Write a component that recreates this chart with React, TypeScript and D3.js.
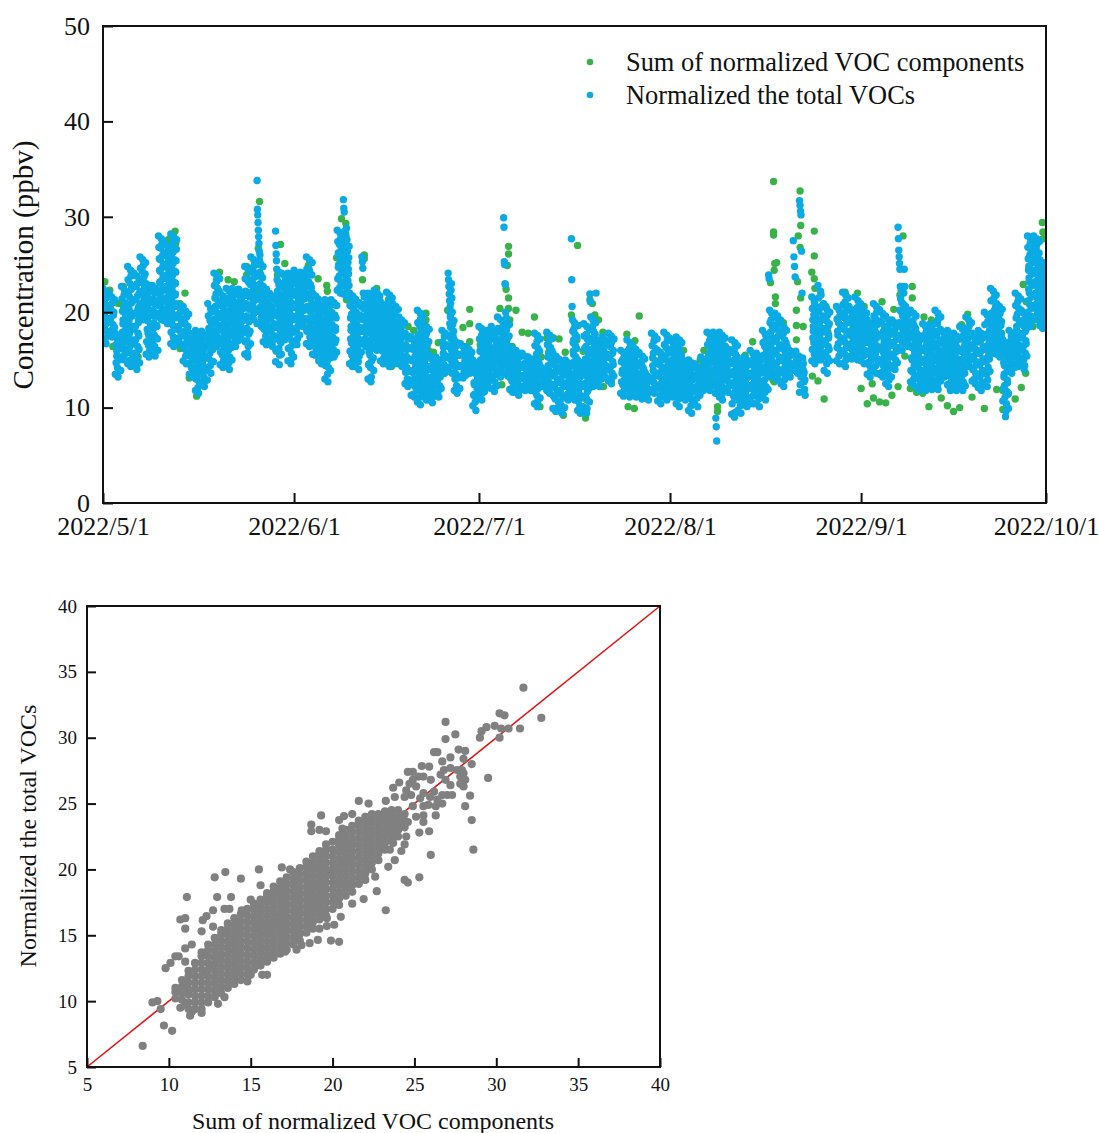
import * as d3 from 'd3';
import React, { useRef, useEffect } from 'react';

const SERIES_NAMES = ['Sum of normalized VOC components', 'Normalized the total VOCs'];
const CONC_TICKS = [0, 10, 20, 30, 40, 50];
const DATE_TICKS = ['2022/5/1', '2022/6/1', '2022/7/1', '2022/8/1', '2022/9/1', '2022/10/1'];
const SCATTER_TICKS = [5, 10, 15, 20, 25, 30, 35, 40];

// Normalized total VOCs, one list per day from 2022/5/1, readings in time order
const totalDaily: number[][] = [
  [22.5,21.2,19.9,18.6,17.3,16.7,18,19.3,20.6,21.9],
  [22,20.7,19.4,18.1,17.4,18.7,20,21.3],
  [17.8,16.6,15.4,14.2,13.2,13.8,15,16.2,17.2],
  [22.7,21.4,20.1,18.8,17.5,16.2,15,15.6,16.9,18.2,19.5,20.8,22],
  [24.8,23.4,22,20.6,19.2,17.8,16.4,15,14.3,15.7,17.1,18.5,19.9,21.3,22.7,24.1],
  [24.1,22.7,21.3,19.9,18.5,17.1,15.7,14.3,14,15,16.4,17.8,19.2,20.6,22,23.4],
  [25.8,24.6,23.4,22.2,21,19.8,19.2,20.4,21.6,22.8,24,25.2],
  [23,21.7,20.4,19.1,17.8,16.5,15.3,15.9,17.2,18.5,19.8,21.1,22.4],
  [22.8,21.4,20.2,18.9,17.6,16.4,15.4,16,17.3,18.6,19.9,21.2,22.2],
  [28,26.8,25.6,24.4,23.2,22,20.8,19.6,19.2,20.2,21.4,22.6,23.8,25,26.2,27.4],
  [27.2,26,24.8,23.6,22.4,21.2,20,18.8,19.4,20.6,21.8,23,24.2,25.4,26.6],
  [28.2,27,25.8,24.6,23.4,22.2,21,19.8,18.6,17.4,16.4,17,18.2,19.4,20.6,21.8,23,24.2,25.4,26.6,27.6],
  [20.9,19.7,18.5,17.3,16.7,17.9,19.1,20.3],
  [20.6,19.3,18,16.7,15.4,14.6,15.9,17.2,18.5,19.8],
  [17.8,16.6,15.4,14.2,13.2,13.8,15,16.2,17.2],
  [18.1,16.9,15.7,14.5,13.3,12.1,11.5,12.7,13.9,15.1,16.3,17.5],
  [18,16.8,15.6,14.4,13.2,12.2,12.8,14,15.2,16.4,17.6],
  [20.9,19.6,18.3,17,15.7,14.4,13.6,14.9,16.2,17.5,18.8,20.1],
  [24.1,22.8,21.5,20.2,18.9,17.6,16.4,17,18.3,19.6,20.9,22.2,23.5],
  [22,20.7,19.4,18.1,16.8,15.5,14.2,14.9,16.2,17.5,18.8,20.1,21.4],
  [22.5,21.2,19.9,18.6,17.3,16,14.7,14,15.3,16.6,17.9,19.2,20.5,21.8],
  [22.5,21.2,19.9,18.6,17.3,16.4,17.9,19.2,20.5,21.8],
  [22.4,21.1,19.8,18.5,17.2,17.8,19.1,20.4,21.7],
  [24.8,23.5,22.2,20.9,19.6,18.3,17,15.7,15.3,16.4,17.7,19,20.3,21.6,22.9,24.2],
  [25.8,24.6,23.4,22.2,21,19.8,19.2,20.4,21.6,22.8,24,25.2],
  [33.8,30.8,30.2,29.4,28.6,27.9,27.2,26.4,25.4,24.2,23,21.8,20.6,19.4,18.5,19.9,21.2,22.4,23.6,24.8],
  [22.7,21.4,20.1,18.8,17.5,16.6,17.9,19.2,20.5,21.8],
  [22,20.7,19.4,18.1,16.8,16.4,17.4,18.7,20,21.3],
  [28.5,27,26.1,25.4,24.5,23.4,22.2,21,19.8,18.6,17.4,16.2,14.5,15.5,17,18.2,19.4,20.6,21.8,23],
  [24.1,22.8,21.5,20.2,18.9,17.6,17.1,18.3,19.6,20.9,22.2,23.5],
  [24.1,22.8,21.5,20.2,18.9,17.6,16.3,15,14.6,15.7,17,18.3,19.6,20.9,22.2,23.5],
  [24.4,23.1,21.8,20.5,19.2,17.9,16.6,17.2,18.5,19.8,21.1,22.4,23.7],
  [24.2,23,21.8,20.6,19.4,18.5,19,20.2,21.4,22.6,23.8],
  [25.8,24.5,23.2,21.9,20.6,19.3,18,16.7,16.4,17.4,18.7,20,21.3,22.6,23.9,25.2],
  [22,20.7,19.4,18.1,16.8,15.5,16.2,17.5,18.8,20.1,21.4],
  [20.9,19.6,18.3,17,15.7,14.6,15.1,16.4,17.7,19,20.3],
  [21.3,20,18.7,17.4,16.1,14.8,13.5,12.7,14.2,15.5,16.8,18.1,19.4,20.7],
  [21.3,20,18.7,17.4,16.1,15.3,15.5,16.8,18.1,19.4,20.7],
  [28.6,27.4,26.2,25,23.8,22.6,22,23.2,24.4,25.6,26.8,28],
  [31.8,30.9,30.5,28.5,27.3,26.1,24.9,23.7,22.5,21.6,22.1,23.3,24.5,25.7,26.9],
  [22,20.7,19.4,18.1,16.8,15.5,14.3,14.9,16.2,17.5,18.8,20.1,21.4],
  [21.3,20,18.7,17.4,16.1,14.8,14,15.4,16.7,18,19.3,20.6],
  [25.8,25.3,24.6,22,20.8,19.6,18.4,17.2,16.4,17.8,19,20.2,21.4],
  [22,20.7,19.4,18.1,16.8,15.5,14.2,12.7,13.2,14.9,16.2,17.5,18.8,20.1,21.4],
  [22.3,21,19.7,18.4,17.1,16,16.5,17.8,19.1,20.4,21.7],
  [21.1,19.8,18.5,17.2,15.9,14.6,15.2,16.5,17.8,19.1,20.4],
  [22.1,20.8,19.5,18.2,16.9,15.6,14.3,15,16.3,17.6,18.9,20.2,21.5],
  [20.9,19.6,18.3,17,15.7,14.6,15.1,16.4,17.7,19,20.3],
  [19.5,18.3,17.1,15.9,14.7,14.3,15.3,16.5,17.7,18.9],
  [17.8,16.6,15.4,14.2,13,12.2,12.6,13.8,15,16.2,17.2],
  [17.4,16.2,15,13.8,12.6,11.4,11.1,12.2,13.4,14.6,15.8,16.8],
  [20.2,18.9,17.6,16.3,15,13.7,12.4,11.1,10.3,11.8,13.1,14.4,15.7,17,18.3,19.6],
  [18.8,17.5,16.2,14.9,13.6,12.3,11,10.8,11.7,13,14.3,15.6,16.9,18.2],
  [15.3,14.1,12.9,11.7,10.5,11.1,12.3,13.5,14.7],
  [15.3,14.1,12.9,11.7,11.1,12.3,13.5,14.7],
  [18.1,16.9,15.7,14.5,13.6,14.1,15.3,16.5,17.5],
  [24.1,23.4,22.7,21.9,21.2,20.5,19.5,18.4,17.2,16,14.8,13.6,14.4,15.6,16.8,18,19.1],
  [17.1,15.9,14.7,13.5,12.3,11.5,11.9,13.1,14.3,15.5,16.6],
  [16.7,15.5,14.3,13.1,13.7,14.9,16.1],
  [16.4,15.2,14,13.6,14.6,15.8],
  [15,13.8,12.6,11.4,10.6,9.7,11,12,13.2,14.4],
  [18.5,17.2,15.9,14.6,13.3,12,10.8,11.5,12.8,14.1,15.4,16.7,18],
  [18.1,16.9,15.7,14.5,13.3,12.2,12.7,13.9,15.1,16.3,17.5],
  [18.5,17.2,15.9,14.6,13.3,12,11.7,12.7,14,15.3,16.6,17.9],
  [19.5,18.3,17.1,15.9,14.7,13.5,13.2,14.1,15.3,16.5,17.7,18.9],
  [29.9,28.9,25.3,25,23,22.9,20,19.3,18.1,16.9,15.7,14.5,13.3,13.9,15.1,16.3,17.5,18.7],
  [16.4,15.2,14,12.8,11.6,12.2,13.4,14.6,15.8],
  [16,14.8,13.6,12.4,11.3,11.8,13,14.2,15.4],
  [15.7,14.5,13.3,12.1,11.8,12.7,13.9,15.1],
  [15.3,14.1,12.9,11.8,12.3,13.5,14.7],
  [17.8,16.5,15.2,13.9,12.6,11.3,10.1,10.7,12,13.3,14.6,15.9,17.2],
  [14.3,13.2,12.2,12.7,13.8],
  [17.9,16.6,15.3,14,12.7,11.5,12.1,13.4,14.7,16,17.3],
  [15.7,14.5,13.3,12.1,10.9,9.6,9.9,11.5,12.7,13.9,15.1],
  [15,13.8,12.6,11.4,10.2,9.4,9.9,11,12.2,13.4,14.4],
  [15,13.8,12.6,11.4,10.8,12,13.2,14.4],
  [27.7,23.4,20.6,19.2,18,16.8,15.6,14.4,13.2,12,10.8,11.4,12.6,13.8,15,16.2,17.4,18.6],
  [15,13.8,12.6,11.4,10.2,9.4,10,11,12.2,13.4,14.4],
  [18.8,17.5,16.2,14.9,13.6,12.3,11,9.4,9.9,11.7,13,14.3,15.6,16.9,18.2],
  [21.9,21.1,19.5,18.3,17.1,15.9,14.7,13.5,12.2,12.9,14.1,15.3,16.5,17.7,18.9],
  [22,17.1,16,14.9,13.8,12.8,12.2,13.3,14.4,15.5,16.6],
  [17.4,16.2,15,13.8,13.2,14.4,15.6,16.8],
  [17.8,16.6,15.4,14.2,13,12.5,13.6,14.8,16,17.2],
  [],
  [16,14.8,13.6,12.4,11.2,11.8,13,14.2,15.4],
  [17.1,15.9,14.7,13.5,12.3,11.1,11.7,12.9,14.1,15.3,16.5],
  [16.4,15.2,14,12.8,11.6,11.1,12.2,13.4,14.6,15.8],
  [15.7,14.5,13.3,12.1,10.9,11.5,12.7,13.9,15.1],
  [13.6,12.5,11.4,10.8,11.9,13],
  [17.8,16.5,15.2,13.9,12.6,11.5,12,13.3,14.6,15.9,17.2],
  [16,14.8,13.6,12.4,11.2,10.4,11.8,13,14.2,15.4],
  [17.9,16.6,15.3,14,12.7,11.4,10.8,12.1,13.4,14.7,16,17.3],
  [17.1,15.9,14.7,13.5,12.3,11.1,11.7,12.9,14.1,15.3,16.5],
  [17.4,16.1,14.8,13.5,12.2,10.9,10.1,11.6,12.9,14.2,15.5,16.8],
  [15,13.8,12.6,11.4,10.8,12,13.2,14.4],
  [15,13.8,12.6,11.4,10.2,9.4,10.8,12,13.2,14.4],
  [14.6,13.4,12.2,11,10.1,11.6,12.8,14],
  [15.3,14.1,12.9,11.8,12.3,13.5,14.7],
  [17.9,16.6,15.3,14,12.7,11.8,12.1,13.4,14.7,16,17.3],
  [17.9,16.6,15.3,14,12.7,11.5,8.9,8,6.5,12.1,13.4,14.7,16,17.3],
  [17.9,16.6,15.3,14,12.7,11.4,10.8,12.1,13.4,14.7,16,17.3],
  [16.4,15.2,14,12.8,11.6,12.2,13.4,14.6,15.8],
  [17.1,15.9,14.7,13.5,12.3,11.1,9,9.5,11.7,12.9,14.1,15.3,16.5],
  [15,13.8,12.6,11.4,10.2,9.4,10.8,12,13.2,14.4],
  [15.3,14.1,12.9,11.7,10.5,10.1,11.1,12.3,13.5,14.7],
  [16,14.8,13.6,12.4,11.2,10.4,11.8,13,14.2,15.4],
  [15.7,14.5,13.3,12.1,10.9,10.1,11.5,12.7,13.9,15.1],
  [18.1,16.8,15.5,14.2,12.9,11.6,10.8,12.2,13.5,14.8,16.1,17.4],
  [23.9,23.5,20.2,18.9,17.6,16.3,15,13.6,14.3,15.6,16.9,18.2,19.5],
  [19.9,18.6,17.3,16,14.7,13.4,12.9,14,15.3,16.6,17.9,19.2],
  [18.8,17.5,16.2,14.9,13.6,12.2,12.9,14.2,15.5,16.8,18.1],
  [16.4,15.2,14,13.2,14.6,15.8],
  [27.5,25.8,24.8,23.7,15.9,14.9,14,13.6,14.4,15.4],
  [31.7,31.2,30.6,30.2,26.4,22,15,14,13.5,12.7,11.9,11.3],
  [],
  [21.6,20.4,19.2,18,16.8,15.6,14.6,15.2,16.4,17.6,18.8,20],
  [22.8,21.5,20.2,18.9,17.6,16.3,15,15.7,17,18.3,19.6,20.9],
  [20.6,19.4,18.2,17,15.8,14.6,13.6,15.2,16.4,17.6,18.8,20],
  [],
  [20.6,19.3,18,16.7,15.4,14.6,16,17.3,18.6,19.9],
  [22.1,20.8,19.5,18.2,16.9,15.6,14.3,15,16.3,17.6,18.9,20.2,21.5],
  [20.6,19.3,18,16.7,15.4,15.1,16,17.3,18.6,19.9],
  [21.6,20.3,19,17.7,16.4,15,15.7,17,18.3,19.6,20.9],
  [20.6,19.3,18,16.7,15.4,14.6,16,17.3,18.6,19.9],
  [19.2,18,16.8,15.6,14.4,13.2,13.8,15,16.2,17.4,18.6],
  [20.9,19.6,18.3,17,15.7,14.4,13.6,15.1,16.4,17.7,19,20.3],
  [20.2,18.9,17.6,16.3,15,13.7,13.2,14.4,15.7,17,18.3,19.6],
  [19.5,18.3,17.1,15.9,14.7,13.5,12.2,12.9,14.1,15.3,16.5,17.7,18.9],
  [19.2,18,16.8,15.6,14.4,14,15,16.2,17.4,18.6],
  [28.9,27.7,26.5,25.8,25.1,24.5,22.7,21.4,20.1,18.8,17.5,16,16.9,18.2,19.5,20.8,22],
  [24.5,22.7,20.6,19.4,18.2,17,16.4,17.6,18.8,20],
  [20.2,18.9,17.6,16.3,15,13.7,12.4,13,14.4,15.7,17,18.3,19.6],
  [17.8,16.6,15.4,14.2,13,11.8,12.4,13.6,14.8,16,17.2],
  [18.8,17.5,16.2,14.9,13.6,12.3,11.8,13,14.3,15.6,16.9,18.2],
  [18.7,17.4,16.1,14.8,13.5,12.2,11.9,12.9,14.2,15.5,16.8,18],
  [20.2,18.9,17.6,16.3,15,13.7,12.4,11.9,13,14.3,15.6,16.9,18.2,19.5],
  [18.1,16.9,15.7,14.5,13.2,13.8,15.1,16.3,17.5],
  [18.1,16.9,15.7,14.5,13.3,12.1,11.8,12.7,13.9,15.1,16.3,17.5],
  [17.8,16.6,15.4,14.2,13,11.8,12.4,13.6,14.8,16,17.2],
  [18.5,17.2,15.9,14.6,13.3,12,11.8,12.7,14,15.3,16.6,17.9],
  [19.5,18.3,17.1,15.9,14.7,14.3,15.3,16.5,17.7,18.9],
  [17.8,16.6,15.4,14.2,13,12.5,13.6,14.8,16,17.2],
  [18.1,16.9,15.7,14.5,13.3,12.1,11.8,12.7,13.9,15.1,16.3,17.5],
  [20,18.7,17.4,16.1,14.8,13.5,12.2,12.9,14.2,15.5,16.8,18.1,19.4],
  [22.5,21.2,19.9,18.6,17.3,16,15.7,16.7,18,19.3,20.6,21.8],
  [20.9,19.6,18.3,17,15.7,15.3,16.4,17.7,19,20.3],
  [17.1,15.9,14.7,13.5,12.3,11.1,9.05,9.6,10.4,11.7,12.9,14.1,15.3,16.5],
  [18.1,16.9,15.7,14.5,13.6,14.1,15.3,16.5,17.5],
  [22,20.7,19.4,18.1,16.8,15.5,14.3,14.9,16.2,17.5,18.8,20.1,21.4],
  [20.2,18.9,17.6,16.3,15,14,14.4,15.7,17,18.3,19.6],
  [28,26.8,25.6,24.4,23.2,22,20.8,19.6,18.5,19.2,20.4,21.6,22.8,24,25.2,26.4,27.6],
  [28,26.8,25.6,24.4,23.2,22,20.8,19.6,19.2,20.2,21.4,22.6,23.8,25,26.2,27.4],
  [25.5,24.3,23.1,21.9,20.7,19.5,18.3,18.9,20.1,21.3,22.5,23.7,24.9],
];

// Further total VOC readings in the solid part of the band, per day
const totalDailyBand: number[][] = [
  [17,18.3,19.6,20.9,22.2,21.5,20.2,18.9,17.6],
  [17.7,19,20.3,21.6,21,19.7,18.4],
  [13.5,14.7,15.9,17.1,17.5,16.3,15.1,13.9],
  [15.3,16.6,17.9,19.2,20.5,21.8,22.3,21,19.7,18.4,17.1,15.8],
  [14.6,16,17.4,18.8,20.2,21.6,23,24.4,23.8,22.4,21,19.6,18.2,16.8,15.4],
  [14.5,15.7,17.1,18.5,19.9,21.3,22.7,23.8,23,21.7,20.3,18.9,17.5,16.1,14.7],
  [19.5,20.7,21.9,23.1,24.3,25.5,24.9,23.7,22.5,21.3,20.1],
  [15.6,16.9,18.2,19.5,20.8,22.1,22.7,21.4,20.1,18.8,17.5,16.2],
  [15.7,17,18.3,19.6,20.9,22,22.5,21.1,19.8,18.5,17.2,16],
  [19.5,20.7,21.9,23.1,24.3,25.5,26.7,27.7,27.1,25.9,24.7,23.5,22.3,21.1,19.9],
  [19.1,20.3,21.5,22.7,23.9,25.1,26.3,26.9,25.7,24.5,23.3,22.1,20.9,19.7],
  [16.7,17.9,19.1,20.3,21.5,22.7,23.9,25.1,26.3,27.5,27.9,26.7,25.5,24.3,23.1,21.9,20.7,19.5,18.3,17.1],
  [17,18.2,19.4,20.6,20,18.8,17.6],
  [14.9,16.2,17.5,18.8,20.1,19.5,18.2,16.9,15.6],
  [13.5,14.7,15.9,17.1,17.5,16.3,15.1,13.9],
  [11.8,13,14.2,15.4,16.6,17.8,17.2,16,14.8,13.6,12.4],
  [12.5,13.7,14.9,16.1,17.3,17.7,16.5,15.3,14.1,12.9],
  [13.9,15.2,16.5,17.8,19.1,20.4,20,18.7,17.4,16.1,14.8],
  [16.7,18,19.3,20.6,21.9,23.2,23.8,22.5,21.2,19.9,18.6,17.3],
  [14.5,15.8,17.1,18.4,19.7,21,21.7,20.4,19.1,17.8,16.5,15.2],
  [14.4,15.7,17,18.3,19.6,20.9,22.2,21.5,20.2,18.9,17.6,16.3,15],
  [16.7,18,19.3,20.6,21.9,22.2,20.9,19.6,18.3,17],
  [17.4,18.7,20,21.3,22.1,20.8,19.5,18.2],
  [15.6,16.9,18.2,19.5,20.8,22.1,23.4,24.5,23.2,21.9,20.6,19.3,18,16.7],
  [19.5,20.7,21.9,23.1,24.3,25.5,24.9,23.7,22.5,21.3,20.1],
  [18.8,20.1,21.4,22.6,23.8,25,26,25.1,23.9,22.7,21.5,20.3,19.1],
  [16.9,18.2,19.5,20.8,22.1,22.4,21.1,19.8,18.5,17.2],
  [16.7,18,19.3,20.6,21.7,21.4,20.1,18.8,17.5],
  [14.8,16,17.2,18.4,19.6,20.8,22,23.2,24.2,22.8,21.6,20.4,19.2,18,16.8,15.6],
  [17.4,18.6,19.9,21.2,22.5,23.8,23.2,21.9,20.6,19.3,18],
  [14.9,16.2,17.5,18.8,20.1,21.4,22.7,23.8,23.1,21.8,20.5,19.2,17.9,16.6,15.3],
  [16.7,18,19.3,20.6,21.9,23.2,24.1,22.8,21.5,20.2,18.9,17.6],
  [18.8,20,21.2,22.4,23.6,24,22.9,21.7,20.5,19.3],
  [16.7,18,19.3,20.6,21.9,23.2,24.5,25.5,24.2,22.9,21.6,20.3,19,17.7],
  [15.6,16.9,18.2,19.5,20.8,21.7,20.4,19.1,17.8,16.5],
  [14.9,16.2,17.5,18.8,20.1,20.6,19.3,18,16.7,15.4],
  [13,14.4,15.7,17,18.3,19.6,20.9,20.4,19.1,17.8,16.5,15.2,13.9],
  [15.6,16.9,18.2,19.5,20.8,21,19.7,18.4,17.1,15.8],
  [22.3,23.5,24.7,25.9,27.1,28.3,27.7,26.5,25.3,24.1,22.9],
  [21.9,23.1,24.3,25.5,26.7,27.9,28.8,27.6,26.4,25.2,24,22.8],
  [14.6,15.9,17.2,18.5,19.8,21.1,21.7,20.4,19.1,17.8,16.5,15.2],
  [14.3,15.6,16.9,18.2,19.5,20.8,21,19.7,18.4,17.1,15.8],
  [16.7,18,19.2,20.4,21.6,21.7,20.5,19.3,18.1,16.9],
  [13,14.5,15.8,17.1,18.4,19.7,21,21.7,20.4,19.1,17.8,16.5,15.2,13.9],
  [16.3,17.6,18.9,20.2,21.5,22,20.7,19.4,18.1,16.8],
  [14.9,16.2,17.5,18.8,20.1,20.8,19.5,18.2,16.9,15.6],
  [14.6,15.9,17.2,18.5,19.8,21.1,21.8,20.5,19.2,17.9,16.6,15.3],
  [14.9,16.2,17.5,18.8,20.1,20.6,19.3,18,16.7,15.4],
  [14.6,15.8,17,18.2,19.2,18.6,17.4,16.2,15],
  [12.5,13.7,14.9,16.1,17.3,17.5,16.3,15.1,13.9,12.9],
  [11.3,12.5,13.7,14.9,16.1,17.1,16.6,15.4,14.2,13,11.8],
  [10.6,12,13.3,14.6,15.9,17.2,18.5,19.9,19.3,18,16.7,15.4,14.1,12.8,11.5],
  [11.1,12.4,13.7,15,16.3,17.6,18.5,17.9,16.6,15.3,14,12.7,11.4],
  [10.8,12,13.2,14.4,15,13.8,12.6,11.4],
  [11.4,12.6,13.8,15,14.4,13.2,12],
  [13.9,15.1,16.3,17.5,17.8,16.6,15.4,14.2],
  [14,15.2,16.4,17.6,18.8,19.9,20.9,22.3,23,21.5,20,18.7,17.5,16.3,15.1],
  [11.8,13,14.2,15.4,16.5,16.8,15.6,14.4,13.2,12],
  [13.2,14.4,15.6,16.4,15.8,14.6,13.4],
  [13.9,15,16.1,15.5,14.3],
  [10.2,11.3,12.4,13.6,14.7,14.1,12.9,11.7],
  [11.1,12.4,13.7,15,16.3,17.6,18.2,16.9,15.6,14.3,13,11.7],
  [12.5,13.7,14.9,16.1,17.3,17.8,16.6,15.4,14.2,13],
  [12,13.3,14.6,15.9,17.2,18.2,17.5,16.2,14.9,13.6,12.3],
  [13.5,14.7,15.9,17.1,18.3,19.2,18,16.8,15.6,14.4],
  [13.6,14.8,16,17.2,18.4,19.4,18.5,17.3,16.1,14.9,13.7],
  [11.9,13.1,14.3,15.5,16.1,14.9,13.7,12.5],
  [11.6,12.8,14,15.2,15.7,14.5,13.3,12.1],
  [12.2,13.4,14.6,15.4,14.2,13,11.9],
  [12.1,13.3,14.5,15,13.8,12.6],
  [10.4,11.7,13,14.3,15.6,16.9,17.5,16.2,14.9,13.6,12.3,11],
  [12.5,13.5,14,13,12.4],
  [11.8,13.1,14.4,15.7,17,17.6,16.3,15,13.7,12.4],
  [9.9,11.2,12.4,13.6,14.8,15.4,14.2,13,11.8,10.6],
  [9.7,10.6,11.8,13,14.2,14.7,13.5,12.3,11.1,10],
  [11.1,12.3,13.5,14.7,14.1,12.9,11.7],
  [11.1,12.3,13.5,14.7,15.9,17.1,18.3,18.9,17.7,16.5,15.3,14.1,12.9,11.7],
  [9.7,10.7,11.9,13.1,14.3,14.7,13.5,12.3,11.1,10.1],
  [9.7,11.2,12.5,13.8,15.1,16.4,17.7,18.5,17.2,15.9,14.6,13.3,12,10.6],
  [12.5,13.7,14.9,16.1,17.3,18.5,19.2,18,16.8,15.6,14.4,13.2],
  [12.5,13.6,14.7,15.8,16.8,16.3,15.2,14.1,13],
  [13.5,14.7,15.9,17.1,16.5,15.3,14.1],
  [12.8,14,15.2,16.4,17.5,16.9,15.7,14.5,13.3],
  [],
  [11.5,12.7,13.9,15.1,15.7,14.5,13.3,12.1],
  [11.4,12.6,13.8,15,16.2,16.8,15.6,14.4,13.2,12],
  [11.4,12.5,13.7,14.9,16.1,15.5,14.3,13.1,11.9],
  [11.2,12.4,13.6,14.8,15.4,14.2,13,11.8],
  [11.1,12.2,13.3,12.8,11.7],
  [11.8,13.1,14.4,15.7,17,17.5,16.2,14.9,13.6,12.3],
  [10.7,12.1,13.3,14.5,15.7,15.1,13.9,12.7,11.5],
  [11.1,12.4,13.7,15,16.3,17.6,17,15.7,14.4,13.1,11.8],
  [11.4,12.6,13.8,15,16.2,16.8,15.6,14.4,13.2,12],
  [10.4,11.3,12.6,13.9,15.2,16.5,17.1,15.8,14.5,13.2,11.9],
  [11.1,12.3,13.5,14.7,14.1,12.9,11.7],
  [9.7,11.1,12.3,13.5,14.7,14.1,12.9,11.7,10.5],
  [10.4,11.9,13.1,14.3,13.7,12.5,11.3],
  [12,13.2,14.4,15,13.8,12.6],
  [12.1,13.1,14.4,15.7,17,17.6,16.3,15,13.7,12.4],
  [12.4,13.7,15,16.3,17.6,17,15.7,14.4,13.1,11.9],
  [11.1,12.4,13.7,15,16.3,17.6,17,15.7,14.4,13.1,11.8],
  [11.9,13.1,14.3,15.5,16.1,14.9,13.7,12.5],
  [9.3,10.4,11.4,12.6,13.8,15,16.2,16.8,15.6,14.4,13.2,12,10.8],
  [9.7,11.1,12.3,13.5,14.7,14.1,12.9,11.7,10.5],
  [10.3,11.4,12.6,13.8,15,14.4,13.2,12,10.8],
  [10.7,12.1,13.3,14.5,15.7,15.1,13.9,12.7,11.5],
  [10.4,11.8,13,14.2,15.4,14.8,13.6,12.4,11.2],
  [11.1,12.5,13.8,15.1,16.4,17.7,17.1,15.8,14.5,13.2,11.9],
  [13.9,15.3,16.6,17.9,19.2,19.9,18.5,17.2,15.9,14.6],
  [13.1,14.4,15.7,17,18.3,19.6,18.9,17.6,16.3,15,13.7],
  [12.5,13.9,15.2,16.5,17.8,18.4,17.1,15.8,14.5,13.2],
  [13.5,14.8,16,15.5,14.3],
  [13.9,14.6,15.6,15.2,14.2],
  [11.6,12.4,13.2,14.4,15.2,14.6,13.7,12.9],
  [],
  [14.9,16.1,17.3,18.5,19.7,21.1,20.8,19.6,18.4,17.2,16,15],
  [15.3,16.6,17.9,19.2,20.5,22.2,21.8,20.6,19.3,18,16.7,15.4],
  [13.9,15.5,16.7,17.9,19.1,20.3,19.7,18.5,17.3,16.1,14.9],
  [],
  [14.9,16.3,17.6,18.9,20.2,19.6,18.3,17,15.7],
  [14.6,15.9,17.2,18.5,19.8,21.1,21.8,20.5,19.2,17.9,16.6,15.3],
  [15.3,16.3,17.6,18.9,20.2,19.6,18.3,17,15.7],
  [15.3,16.6,17.9,19.2,20.5,21.2,20,18.7,17.4,16.1],
  [14.9,16.3,17.6,18.9,20.2,19.6,18.3,17,15.7],
  [13.5,14.7,15.9,17.1,18.3,18.9,17.7,16.5,15.3,14.1],
  [13.9,15.4,16.7,18,19.3,20.6,20,18.7,17.4,16.1,14.8],
  [13.5,15,16.3,17.6,18.9,19.9,19.3,18,16.7,15.4,14.1],
  [12.5,13.8,15,16.2,17.4,18.6,19.2,18,16.8,15.6,14.4,13.2],
  [14.3,15.6,16.8,18,18.9,18.3,17.1,15.9,14.7],
  [16.3,17.6,18.9,20.2,21.5,22.3,21,19.7,18.4,17.1],
  [16.7,17.9,19.1,20.3,19.7,18.5,17.3],
  [12.7,13.9,15.2,16.5,17.8,19.1,19.9,18.6,17.3,16,14.7,13.4],
  [12.1,13.3,14.5,15.7,16.9,17.5,16.3,15.1,13.9,12.7],
  [12.1,13.4,14.7,16,17.3,18.5,17.9,16.6,15.3,14,12.7],
  [12.2,13.4,14.7,16,17.3,18.4,17.7,16.4,15.1,13.8,12.5],
  [12.2,13.6,14.9,16.2,17.5,18.8,19.9,19.3,18,16.7,15.4,14.1,12.8],
  [13.5,14.8,16,17.2,17.8,16.6,15.4,14.2],
  [12.4,13.6,14.8,16,17.2,17.8,16.6,15.4,14.2,13,12],
  [12.1,13.3,14.5,15.7,16.9,17.5,16.3,15.1,13.9,12.7],
  [12.1,13.4,14.7,16,17.3,18.2,17.5,16.2,14.9,13.6,12.3],
  [14.6,15.9,17.1,18.3,19.2,18.6,17.4,16.2,15],
  [12.8,14,15.2,16.4,17.5,16.9,15.7,14.5,13.3],
  [12.1,13.3,14.5,15.7,16.9,17.8,17.2,16,14.8,13.6,12.4],
  [12.5,13.8,15.1,16.4,17.7,19.7,19,17.7,16.4,15.1,13.8],
  [16,17.3,18.6,19.9,21.2,22.2,21.5,20.2,18.9,17.6,16.3],
  [15.6,16.9,18.2,19.5,20.6,19.9,18.6,17.3,16],
  [10.7,12,13.2,14.4,15.6,16.8,16.2,15,13.8,12.6,11.4,9.9],
  [13.9,15.1,16.3,17.5,17.8,16.6,15.4,14.2],
  [14.6,15.9,17.2,18.5,19.8,21.1,21.7,20.4,19.1,17.8,16.5,15.2],
  [14.7,16,17.3,18.6,19.9,19.3,18,16.7,15.4],
  [18.8,20,21.2,22.4,23.6,24.8,26,27.2,27.7,26.5,25.3,24.1,22.9,21.7,20.5,19.3],
  [19.5,20.7,21.9,23.1,24.3,25.5,26.7,27.7,27.1,25.9,24.7,23.5,22.3,21.1,19.9],
  [18.6,19.8,21,22.2,23.4,24.6,25.2,24,22.8,21.6,20.4,19.2],
];

// Sum of components: [days after 2022/5/1, ppbv]. Only the readings that show past the blue band
const sumReadings: [number, number][] = [
  [0.3,23.2],[1.1,22.3],[3.3,22.7],[2.5,20.9],[1.6,16.4],[2.2,16.2],[4.9,16.7],[5.7,15.3],[7.4,17.6],[7.6,22.8],
  [10.6,27.6],[11.7,28.5],[11.8,27.2],[13.3,22],[10.3,22.7],[12.5,20.9],[12.5,16.2],[14,13.1],[15.2,11.2],[16.6,16.4],
  [18.4,23.4],[18.9,24.2],[20.3,23.4],[21.3,23.2],[19.3,16.7],[23.3,24.8],[23.3,23.9],[25.4,31.6],[25.2,26.7],[25.2,22],
  [28.7,19.5],[28.1,15.9],[28.8,27.1],[29.5,25.1],[28.3,23.9],[30.3,18.1],[31.2,16.9],[31.7,22.5],[33.3,24.9],[33,18.3],
  [35.2,17.1],[34.9,23.5],[36.3,22.8],[36.4,22.2],[38.7,29.8],[39.4,29.3],[39.4,28.2],[38.5,27.6],[37.9,25.7],[38.7,24.9],
  [42.4,26],[42.4,25.6],[42.1,23.4],[43.2,14.6],[39.5,21.3],[40.6,19.7],[40.6,18],[44.4,22.5],[46.3,21.3],[45.5,19.7],
  [46,19.2],[46.8,14.3],[49.5,18.5],[50.4,18.1],[52.4,19.9],[52.4,19.2],[51.4,16.7],[52.8,16],[53.6,15.8],[54.4,16.8],
  [55.9,20.2],[55.9,13.8],[53,11.8],[59.5,20.3],[58.4,18.4],[59.5,18.8],[59.5,16.9],[61.4,18.3],[62.3,18.1],[60.6,14.6],
  [61.2,16.6],[62.8,18],[64.7,12.4],[64.4,20.4],[65.8,20.4],[67,20.2],[65.8,26.9],[65.8,26.1],[65.6,24.9],[65.4,22.4],
  [65.8,21.5],[66,19.2],[66.4,16.4],[66.6,11.7],[68,17.9],[69,17.8],[70,19.5],[70.4,17.6],[70.9,10.1],[71.1,15.3],
  [72,17.3],[73.1,17.3],[74,17.2],[72.4,16],[75,15.8],[74.7,9.2],[76,19.7],[77,27],[76.9,17.1],[77.1,18.6],
  [76.7,12],[78.5,10.8],[78.3,8.9],[77.9,15.9],[79,21.3],[79.4,20.9],[79.8,19.7],[80.4,19.2],[81.1,17.9],[82.4,16.9],
  [81.2,12.2],[82.5,12.9],[85,17.7],[86.3,17],[87,19.6],[84.7,12.2],[85.2,10.1],[86.2,9.9],[87.7,13.9],[90.4,15.8],
  [92.8,12.2],[94.2,16],[97.5,16],[96.9,15],[99.6,16.4],[99.7,10.1],[99.7,9.6],[100.1,12.7],[98.8,12.9],[104.2,15.5],
  [105.4,16.9],[107.2,16.8],[106.6,11.8],[108.8,33.7],[108.8,28.4],[108.8,28.1],[109,25.1],[108.9,24.4],[108.3,23.1],[109.1,21.6],
  [109.1,20.9],[108.8,13.6],[108.9,12.7],[109.3,25.2],[110.4,18.9],[108.7,12.9],[113.1,32.7],[113.2,29.1],[112.8,28],[113.1,26.8],
  [112.7,23.2],[113.2,21.5],[112.5,20.2],[112.5,18.6],[113.6,18.5],[112.5,17.1],[113.5,15],[115.4,28.5],[115.4,25.9],[115,24.2],
  [115.4,23.5],[115.5,22.5],[117.3,20.6],[117.6,17.9],[115.1,13.3],[116,12.8],[117,10.9],[120.4,22.1],[122.4,22],[123.5,20.6],
  [121,20.6],[120.4,19.4],[123,12],[124,10.4],[125,11],[124.8,12.5],[126,10.6],[127,10.5],[128,11.3],[129,12.2],
  [126.4,21.1],[128.3,20.3],[129.8,28],[129.6,22.7],[129.3,21.8],[131.3,22.7],[131.3,21.5],[131,12],[132,11.6],[133,11.5],
  [130.1,15.4],[131.5,17.9],[133.2,19.5],[134.4,19.2],[135.1,12.2],[134,10.1],[136,11],[137,10.2],[138,9.6],[139,10],
  [141,11.1],[143,9.9],[139.3,18.7],[140.3,19.8],[145.8,17.8],[145,11.9],[149,12.1],[148,10.9],[146,11.8],[146.9,11.5],
  [146,9.8],[149.7,13.6],[149.3,22.9],[149.8,21.1],[150.4,27.9],[150.2,24.8],[152.4,29.4],[152.5,28.4],[152.5,27.7],[152.3,24.4],
  [150.9,18.5],[149.8,19.2],[152.5,19],[152.1,23],[150.7,19.2],[152.3,22.8],
];

// Scatter core: [sum of components, totals read at that sum]
const scatterColumns: [number, number[]][] = [
  [10.4,[10.2,10.7,11]],
  [10.8,[10.1,10.6,11.1,11.6]],
  [11.2,[9.4,9.9,10.5,10.9,11.4,11.9,12.3]],
  [11.6,[9.4,9.9,10.4,10.9,11.4,11.9,12.4,12.9]],
  [12,[9.4,9.9,10.4,10.9,11.4,11.9,12.4,12.9,13.4,13.7]],
  [12.4,[9.9,10.4,10.9,11.4,11.9,12.4,12.9,13.4,13.9,14.3]],
  [12.8,[10.3,10.8,11.3,11.8,12.3,12.8,13.3,13.8,14.3,14.8]],
  [13.2,[10.6,11.1,11.6,12.1,12.6,13.1,13.6,14.1,14.6,15.1,15.4]],
  [13.6,[11,11.5,12,12.5,13,13.5,14,14.5,15,15.5,15.9]],
  [14,[11.3,11.8,12.3,12.8,13.3,13.8,14.3,14.8,15.3,15.8,16.3]],
  [14.4,[11.6,12.1,12.6,13.1,13.6,14.1,14.6,15.1,15.6,16.1,16.6]],
  [14.8,[12,12.5,13,13.5,14,14.5,15,15.5,16,16.5,17]],
  [15.2,[12.4,12.9,13.4,13.9,14.4,14.9,15.4,15.9,16.4,16.9,17.4]],
  [15.6,[12.7,13.2,13.7,14.2,14.7,15.2,15.7,16.2,16.7,17.2,17.7]],
  [16,[13,13.5,14,14.5,15,15.5,16,16.5,17,17.5,18,18.2]],
  [16.4,[13.3,13.8,14.3,14.8,15.3,15.8,16.3,16.8,17.3,17.8,18.3,18.7]],
  [16.8,[13.6,14.1,14.6,15.1,15.6,16.1,16.6,17.1,17.6,18.1,18.6,19.1]],
  [17.2,[13.9,14.4,14.9,15.4,15.9,16.4,16.9,17.4,17.9,18.4,18.9,19.4]],
  [17.6,[14.3,14.8,15.3,15.8,16.3,16.8,17.3,17.8,18.3,18.8,19.3,19.8]],
  [18,[14.6,15.1,15.6,16.1,16.6,17.1,17.6,18.1,18.6,19.1,19.6,20.1]],
  [18.4,[15.2,15.7,16.2,16.7,17.2,17.7,18.2,18.7,19.2,19.7,20.2,20.6]],
  [18.8,[15.5,16,16.5,17,17.5,18,18.5,19,19.5,20,20.5,21]],
  [19.2,[16.2,16.7,17.2,17.7,18.2,18.7,19.2,19.7,20.2,20.7,21.2,21.4]],
  [19.6,[16.5,17,17.5,18,18.5,19,19.5,20,20.5,21,21.5,21.9]],
  [20,[17,17.5,18,18.5,19,19.5,20,20.5,21,21.5,22.1]],
  [20.4,[17.3,17.8,18.3,18.8,19.3,19.8,20.3,20.8,21.3,21.8,22.3,22.6]],
  [20.8,[18,18.5,19,19.5,20,20.5,21,21.5,22,22.5,23]],
  [21.2,[18.3,18.8,19.3,19.8,20.3,20.8,21.3,21.8,22.3,22.8,23.3]],
  [21.6,[18.9,19.4,19.9,20.4,20.9,21.4,21.9,22.4,22.9,23.4,23.7]],
  [22,[19.2,19.7,20.2,20.7,21.2,21.7,22.2,22.7,23.2,23.7,24]],
  [22.4,[20,20.5,21,21.5,22,22.5,23,23.5,24,24.2]],
  [22.8,[20.7,21.2,21.7,22.2,22.7,23.2,23.7,24.2]],
  [23.2,[21.5,22,22.5,23,23.5,24,24.4]],
  [23.6,[22.2,22.7,23.2,23.7,24.2,24.5]],
  [24,[22.5,23,23.5,24,24.5]],
  [24.4,[23.2,23.7,24.2]],
];

// Scatter points outside the dense core: [sum of components, total]
const scatterOutliers: [number, number][] = [
  [8.4,6.6],[9.7,8.15],[10.2,7.75],[9.5,9.4],[9,9.9],[9.3,10],[9.8,12.5],[10.1,12.9],[10.4,13.4],[10.6,13.4],
  [11,13],[11,14],[11.4,14.3],[10.7,16.2],[11,16.3],[11,15.5],[11.1,17.9],[12,15.3],[12.07,16.15],[12.3,16.45],
  [12.7,16.9],[12.7,15.65],[12.8,19.4],[13.45,19.8],[12.95,17.9],[13.8,17.9],[13.4,17],[13.7,17],[14.4,19.3],[14.45,16.9],
  [15.5,20],[15.6,18.8],[16.9,20.15],[17.4,20],[15,17.7],[18.7,23.4],[18.7,22.9],[19.2,23],[19.6,22.9],[19.3,24.1],
  [20.4,23.75],[20.7,24.05],[20.6,23.1],[21.2,24.2],[21.6,25.2],[22.2,25],[23.25,25.2],[23.7,26.2],[24.07,26.6],[23.8,25.5],
  [24.6,27.4],[24.9,27.4],[25.45,27.85],[25.9,27.8],[26.2,28.9],[26.4,28.9],[26.9,31.2],[26.9,29.9],[27.5,30.25],[27.7,29.1],
  [28.1,29],[28,28.4],[26.7,28.2],[27.2,28.5],[29,30],[29.1,30.5],[29.4,30.8],[29.9,30.9],[30.2,31.85],[30.5,31.7],
  [30.3,30.7],[30.75,30.7],[30.2,30],[31.45,30.7],[31.66,33.8],[32.75,31.5],[28.5,28],[29.5,26.95],[28.4,25.6],[28.1,24.8],
  [28.5,23.75],[28.6,21.5],[26,21.1],[25.9,22.9],[25.3,22.8],[25.3,19.4],[24.4,19.2],[24.6,19],[23.25,16.9],[22.7,18.35],
  [21.9,17.75],[21.2,17.4],[22.6,19.45],[23.8,20.7],[23.4,20.2],[24.2,21.4],[24.4,21.9],[24.5,22.5],[20.5,16.4],[20.1,15.8],
  [19.65,16.3],[19.65,15.7],[19.2,15.5],[18.6,15.9],[20.4,14.5],[19.9,14.6],[19.1,14.65],[18.6,14.4],[18.1,14.25],[17.8,13.9],
  [17.1,13.75],[16,12],[15.7,12],[14.8,11.5],[15,12],[13.4,10.3],[13,9.8],[10.7,9.5],[11.3,8.9],[12,9.1],
  [11,9.7],[11.4,9.2],[24.5,26],[24.7,26.5],[24.9,26.8],[25.1,26.3],[24.8,25.65],[24.4,25.5],[25.35,25.4],[25.55,25.8],
  [25.96,25.5],[26.2,25.9],[26.4,25.3],[26.7,25.65],[27,25.65],[27.3,25.65],[27.2,26.4],[28,26.3],[27.8,27.05],[28,27.3],
  [28.1,26.8],[27.6,27.55],[27.2,27.7],[26.8,27.55],[26.6,27.2],[26.9,26.8],[26,26.8],[25.55,27.05],[25.25,27.05],[24.9,24.8],
  [25.55,24.8],[25.85,24.9],[26.3,24.8],[26.7,25],[26.3,24.1],[25.55,24.1],[25.55,23.6],[25.1,24],[24.6,23.6],[24.2,23.5],
  [23.9,23.1],[23.3,23],[23.7,22],[23.5,21.5],[27.9,27.55],[27.8,26.5],
];

const SERIF = '"Liberation Serif", "Times New Roman", serif';
const GREEN = '#37b34a';
const BLUE = '#0aabe4';
const GRAY = '#808080';

const parseDate = d3.timeParse('%Y/%-m/%-d');

function styleAxis(g: any, fontSize: number) {
  g.selectAll('text').attr('font-size', fontSize).attr('font-family', SERIF).attr('fill', '#111');
  g.selectAll('line').attr('stroke', '#111').attr('stroke-width', 2);
  g.select('.domain').remove();
}

export default function App() {
  const svgRef = useRef<SVGSVGElement>(null);

  useEffect(() => {
    const svg = d3.select(svgRef.current);
    svg.selectAll('*').remove();

    // time series panel
    const start = parseDate(DATE_TICKS[0]) as Date;
    const end = parseDate(DATE_TICKS[DATE_TICKS.length - 1]) as Date;
    const xTime = d3.scaleTime().domain([start, end]).range([103, 1046]);
    const yConc = d3.scaleLinear().domain([0, 50]).range([503, 26]);
    const atDay = (day: number) => d3.timeMinute.offset(start, Math.round(day * 1440));

    svg.append('clipPath').attr('id', 'series-clip').append('rect')
      .attr('x', 103).attr('y', 26).attr('width', 943).attr('height', 477);
    const dots = svg.append('g').attr('clip-path', 'url(#series-clip)');

    dots.append('g').selectAll('circle').data(sumReadings).join('circle')
      .attr('cx', d => xTime(atDay(d[0])))
      .attr('cy', d => yConc(d[1]))
      .attr('r', 3.7)
      .attr('fill', GREEN);

    const toReadings = (daily: number[][]) => daily.flatMap((vals, day) =>
      vals.map((v, i) => [day + i / vals.length, v] as [number, number]));
    const totalReadings = [...toReadings(totalDaily), ...toReadings(totalDailyBand)];
    dots.append('g').selectAll('circle').data(totalReadings).join('circle')
      .attr('cx', d => xTime(atDay(d[0])))
      .attr('cy', d => yConc(d[1]))
      .attr('r', 3.7)
      .attr('fill', BLUE);

    const xAxisTop = d3.axisBottom(xTime)
      .tickValues(DATE_TICKS.map(t => parseDate(t) as Date))
      .tickFormat((_d, i) => DATE_TICKS[i])
      .tickSizeInner(-10).tickSizeOuter(0).tickPadding(14);
    svg.append('g').attr('transform', 'translate(0,503)').call(xAxisTop as any).call(styleAxis, 26);

    const yAxisTop = d3.axisLeft(yConc).tickValues(CONC_TICKS)
      .tickSizeInner(-10).tickSizeOuter(0).tickPadding(13);
    svg.append('g').attr('transform', 'translate(103,0)').call(yAxisTop as any).call(styleAxis, 26);

    svg.append('rect').attr('x', 103).attr('y', 26).attr('width', 943).attr('height', 477)
      .attr('fill', 'none').attr('stroke', '#111').attr('stroke-width', 2);

    svg.append('text')
      .attr('transform', 'translate(33,265) rotate(-90)')
      .attr('text-anchor', 'middle').attr('font-family', SERIF).attr('font-size', 29).attr('fill', '#111')
      .text('Concentration (ppbv)');

    // legend
    const legendColors = [GREEN, BLUE];
    const legendRows = [63, 96];
    SERIES_NAMES.forEach((name, i) => {
      svg.append('circle').attr('cx', 590).attr('cy', legendRows[i] - 1).attr('r', 3.3).attr('fill', legendColors[i]);
      svg.append('text').attr('x', 626).attr('y', legendRows[i] + 8)
        .attr('font-family', SERIF).attr('font-size', 26.4).attr('fill', '#111').text(name);
    });

    // scatter panel
    const xSum = d3.scaleLinear().domain([5, 40]).range([87, 660]);
    const yTotal = d3.scaleLinear().domain([5, 40]).range([1067, 606]);

    svg.append('line')
      .attr('x1', xSum(5)).attr('y1', yTotal(5)).attr('x2', xSum(40)).attr('y2', yTotal(40))
      .attr('stroke', '#e01515').attr('stroke-width', 1.6);

    const scatterPoints: [number, number][] = [
      ...scatterColumns.flatMap(([s, totals]) => totals.map(t => [s, t] as [number, number])),
      ...scatterOutliers,
    ];
    svg.append('g').selectAll('circle').data(scatterPoints).join('circle')
      .attr('cx', d => xSum(d[0]))
      .attr('cy', d => yTotal(d[1]))
      .attr('r', 4.1)
      .attr('fill', GRAY);

    const xAxisLow = d3.axisBottom(xSum).tickValues(SCATTER_TICKS)
      .tickSizeInner(-9).tickSizeOuter(0).tickPadding(11);
    svg.append('g').attr('transform', 'translate(0,1067)').call(xAxisLow as any).call(styleAxis, 19);

    const yAxisLow = d3.axisLeft(yTotal).tickValues(SCATTER_TICKS)
      .tickSizeInner(-9).tickSizeOuter(0).tickPadding(10);
    svg.append('g').attr('transform', 'translate(87,0)').call(yAxisLow as any).call(styleAxis, 19);

    svg.append('rect').attr('x', 87).attr('y', 606).attr('width', 573).attr('height', 461)
      .attr('fill', 'none').attr('stroke', '#111').attr('stroke-width', 2);

    svg.append('text').attr('x', 373).attr('y', 1129)
      .attr('text-anchor', 'middle').attr('font-family', SERIF).attr('font-size', 24).attr('fill', '#111')
      .text('Sum of normalized VOC components');

    svg.append('text')
      .attr('transform', 'translate(36,836) rotate(-90)')
      .attr('text-anchor', 'middle').attr('font-family', SERIF).attr('font-size', 24).attr('fill', '#111')
      .text('Normalized the total VOCs');
  }, []);

  return (
    <svg
      ref={svgRef}
      width={1099}
      height={1133}
      style={{ position: 'absolute', left: 0, top: 0, background: '#fff' }}
    />
  );
}
